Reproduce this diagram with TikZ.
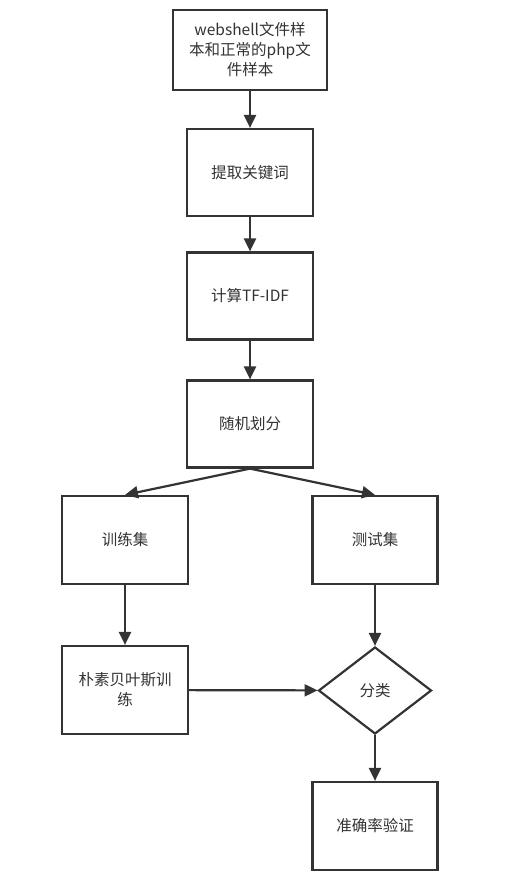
\documentclass[tikz,border=0pt]{standalone}
\usepackage{fontspec}
\setmainfont{Noto Sans CJK SC}
\usetikzlibrary{arrows.meta,shapes.geometric}
\definecolor{ln}{HTML}{333333}
\definecolor{tx}{HTML}{333333}
\begin{document}
\begin{tikzpicture}[x=1pt,y=-1pt,
  box/.style={draw=ln,line width=2.2pt,rectangle,minimum width=126pt,minimum height=87pt,inner sep=2pt,align=center,text=tx,font=\fontsize{15.5pt}{20pt}\selectfont},
  dia/.style={draw=ln,line width=2.2pt,diamond,minimum width=113pt,minimum height=87pt,inner sep=0pt,text=tx,font=\fontsize{15.5pt}{20pt}\selectfont},
  arr/.style={draw=ln,line width=2.2pt,-{Triangle[length=13pt,width=12pt]}}]
\useasboundingbox (0,0) rectangle (511,883);
\fill[white] (0,0) rectangle (511,883);
\node[box,minimum width=154pt,minimum height=80pt] (a) at (250,50) {webshell文件样\\本和正常的php文\\件样本};
\node[box] (b) at (250,172.5) {提取关键词};
\node[box] (c) at (250,296) {计算TF-IDF};
\node[box] (d) at (250,424) {随机划分};
\node[box,minimum height=88pt] (e) at (125,540) {训练集};
\node[box,minimum height=88pt,minimum width=125pt] (f) at (375,540) {测试集};
\node[box,minimum height=88pt] (g) at (125,690) {朴素贝叶斯训\\练};
\node[dia] (h) at (375,690.5) {分类};
\node[box,minimum height=88pt,minimum width=125pt] (i) at (375,826) {准确率验证};
\draw[arr] (a) -- (b);
\draw[arr] (b) -- (c);
\draw[arr] (c) -- (d);
\draw[arr] (d.south) -- (e.north);
\draw[arr] (d.south) -- (f.north);
\draw[arr] (e) -- (g);
\draw[arr] (f) -- (h);
\draw[arr] (g) -- (h);
\draw[arr] (h) -- (i);
\end{tikzpicture}
\end{document}
